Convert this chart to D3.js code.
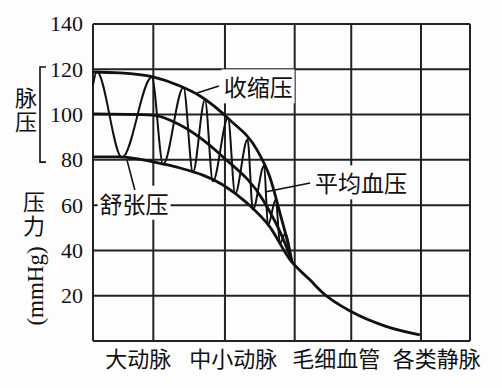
<!DOCTYPE html>
<html>
<head>
<meta charset="utf-8">
<script src="https://cdn.jsdelivr.net/npm/d3@7"></script>
<style>
  body { margin: 0; background: #fff; }
  .cn { font-family: "Noto Sans CJK SC", sans-serif; fill: #111; }
  .num { font-family: "Liberation Serif", serif; fill: #111; }
</style>
</head>
<body>
<div class="svg-container"></div>
<script>
var width = 502;
var height = 388;
var padding = { "top": 24, "right": 32, "bottom": 47, "left": 93 };

// y ticks (mmHg) and vertical grid positions (relative units along the vessel tree)
var yTicks = [20, 40, 60, 80, 100, 120, 140];
var xGrid = [0, 16, 35, 53.5, 68.5, 87, 100];
var categories = ["大动脉", "中小动脉", "毛细血管", "各类静脉"];
var categoryX = [12, 37.2, 64.5, 91.2];

// 收缩压 envelope
var systolicX = [0, 7.2, 15.9, 23.1, 28.4, 36.3, 43.5, 46.9, 49.6, 52.3, 52.8];
var systolicY = [118.8, 118.4, 116.6, 112.6, 108.2, 97.6, 84.4, 72.4, 56.5, 38.9, 34.9];

// 平均血压
var meanX = [0, 15.9, 23.1, 34.5, 45.1, 50.9, 52.8];
var meanY = [100.3, 99.8, 95.4, 81.3, 62.3, 43.3, 34.9];

// 舒张压 envelope, continuing as the single pressure curve to the veins
var diastolicX = [0, 7.2, 15.9, 23.1, 34.5, 40.8, 46.9, 52.3, 57.6, 61, 68.7, 77.5, 86.7];
var diastolicY = [81.3, 81.3, 79.1, 76.4, 68.9, 61, 50.4, 35.8, 26.9, 21.2, 12.8, 6.6, 2.7];

// pulse wave: alternating peaks and troughs
var waveX = [0, 1, 7.7, 15.6, 18.6, 24, 26.5, 29.7, 31.8, 35.8, 37.7, 41, 42.4, 45.4, 46.4, 48.5, 49.6, 51, 52.5];
var waveY = [113, 119, 81, 116.5, 78, 112, 74.5, 106.5, 70.5, 98.5, 65, 89, 58, 77.5, 51, 62.5, 43, 47.5, 37];

// annotation labels: text, label centre, pointer start, pointer end
var labels = [
  { text: "收缩压", x: 43.8, y: 111.7, from: [27.6, 109.5], to: [33.4, 112.6] },
  { text: "平均血压", x: 71.1, y: 69.3, from: [45.6, 65.8], to: [57.6, 69.8] },
  { text: "舒张压", x: 10.9, y: 60.3, from: [9, 80], to: [11.1, 66.7] }
];

var svg = d3.select(".svg-container")
  .append("svg")
  .attr("width", width)
  .attr("height", height);

svg.append("rect").attr("width", width).attr("height", height).attr("fill", "#fdfdfd");

var g = svg.append("g")
  .attr("transform", "translate(" + padding.left + "," + padding.top + ")");

var w = width - padding.left - padding.right;
var h = height - padding.top - padding.bottom;

var scaleX = d3.scaleLinear().domain([0, 100]).range([0, w]);
var scaleY = d3.scaleLinear().domain([0, 140]).range([h, 0]);

// grid
g.append("g").selectAll("line")
  .data(yTicks.concat([0]))
  .enter().append("line")
  .attr("x1", 0).attr("x2", w)
  .attr("y1", function(d) { return scaleY(d); })
  .attr("y2", function(d) { return scaleY(d); })
  .attr("stroke", "#222").attr("stroke-width", 2);

g.append("g").selectAll("line")
  .data(xGrid)
  .enter().append("line")
  .attr("x1", function(d) { return scaleX(d); })
  .attr("x2", function(d) { return scaleX(d); })
  .attr("y1", 0).attr("y2", h)
  .attr("stroke", "#222").attr("stroke-width", 2);

// y tick labels
g.append("g").selectAll("text")
  .data(yTicks)
  .enter().append("text")
  .attr("class", "num")
  .attr("x", -10)
  .attr("y", function(d) { return scaleY(d); })
  .attr("dy", "0.34em")
  .attr("text-anchor", "end")
  .style("font-size", "22px")
  .text(function(d) { return d; });

// category labels
g.append("g").selectAll("text")
  .data(categories)
  .enter().append("text")
  .attr("class", "cn")
  .attr("x", function(d, i) { return scaleX(categoryX[i]); })
  .attr("y", h + 26)
  .attr("text-anchor", "middle")
  .style("font-size", "22px")
  .text(function(d) { return d; });

// annotation labels with white boxes over the grid
labels.forEach(function(d) {
  var t = g.append("text")
    .attr("class", "cn")
    .attr("x", scaleX(d.x))
    .attr("y", scaleY(d.y))
    .attr("dy", "0.36em")
    .attr("text-anchor", "middle")
    .style("font-size", "23px")
    .text(d.text);
  var b = t.node().getBBox();
  g.insert("rect", function() { return t.node(); })
    .attr("x", b.x - 2).attr("y", b.y)
    .attr("width", b.width + 4).attr("height", b.height)
    .attr("fill", "#fdfdfd");
  g.append("line")
    .attr("x1", scaleX(d.from[0])).attr("y1", scaleY(d.from[1]))
    .attr("x2", scaleX(d.to[0])).attr("y2", scaleY(d.to[1]))
    .attr("stroke", "#111").attr("stroke-width", 1.6);
});

function drawCurve(xs, ys, sw) {
  var line = d3.line()
    .x(function(d) { return scaleX(d[0]); })
    .y(function(d) { return scaleY(d[1]); })
    .curve(d3.curveMonotoneX);
  g.append("path")
    .datum(d3.zip(xs, ys))
    .attr("fill", "none")
    .attr("stroke", "#111")
    .attr("stroke-width", sw)
    .attr("stroke-linejoin", "round")
    .attr("d", line);
}

drawCurve(waveX, waveY, 2);
drawCurve(systolicX, systolicY, 2.8);
drawCurve(meanX, meanY, 2.8);
drawCurve(diastolicX, diastolicY, 2.8);

// left side labels, written vertically
var left = svg.append("g");
left.append("text").attr("class", "cn")
  .attr("x", 26).attr("y", 111)
  .attr("text-anchor", "middle")
  .style("writing-mode", "vertical-rl")
  .style("letter-spacing", "2px")
  .style("font-size", "22px")
  .text("脉压");

// bracket for pulse pressure (120 to 80)
var bTop = padding.top + scaleY(121);
var bBot = padding.top + scaleY(79);
left.append("path")
  .attr("d", "M46," + bTop + " L40," + bTop + " L40," + bBot + " L46," + bBot)
  .attr("fill", "none").attr("stroke", "#111").attr("stroke-width", 1.6);

left.append("text").attr("class", "cn")
  .attr("x", 34).attr("y", 215)
  .attr("text-anchor", "middle")
  .style("writing-mode", "vertical-rl")
  .style("letter-spacing", "2px")
  .style("font-size", "22px")
  .text("压力");
left.append("text").attr("class", "num")
  .attr("transform", "translate(36,286) rotate(-90)")
  .attr("dy", "0.32em")
  .attr("text-anchor", "middle")
  .style("font-size", "23px")
  .text("(mmHg)");
</script>
</body>
</html>
